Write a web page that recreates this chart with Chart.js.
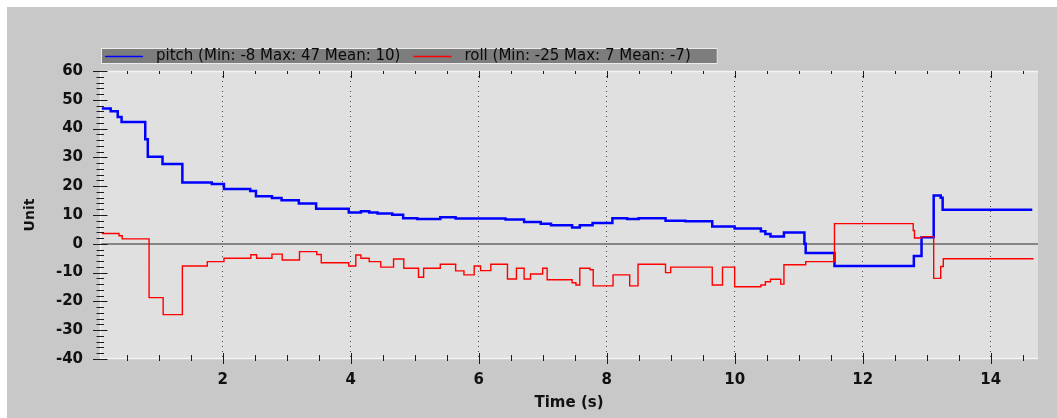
<!DOCTYPE html>
<html>
<head>
<meta charset="utf-8">
<script src="https://cdn.jsdelivr.net/npm/chart.js@4/dist/chart.umd.min.js"></script>
<style>
  html, body { margin: 0; padding: 0; background: #ffffff; overflow: hidden; }
  #wrap { width: 1057px; height: 418px; position: relative; }
</style>
</head>
<body>
<div id="wrap"><canvas id="c"></canvas></div>
<script>
// Sample times (s) and values; each value holds until the next sample time.
const pitchTime = [0.11, 0.25, 0.36, 0.42, 0.79, 0.83, 1.06, 1.37, 1.83, 2.02, 2.43, 2.52, 2.77, 2.92, 3.19, 3.46,
  3.97, 4.16, 4.29, 4.42, 4.65, 4.82, 5.04, 5.40, 5.64, 6.42, 6.71, 6.97, 7.13, 7.46, 7.58, 7.78,
  8.09, 8.32, 8.50, 8.92, 9.23, 9.65, 10.00, 10.41, 10.48, 10.56, 10.77, 11.09, 11.11, 11.56,
  12.80, 12.92, 13.11, 13.22, 13.25, 14.65];
const pitchValue = [47, 46, 44, 42.3, 36.3, 30.2, 27.7, 21.3, 20.8, 19, 18.3, 16.5, 15.9, 15.1, 14, 12.2,
  10.9, 11.3, 10.9, 10.5, 10.1, 8.9, 8.6, 9.2, 8.8, 8.4, 7.6, 7.0, 6.4, 5.7, 6.4, 7.2,
  8.9, 8.6, 8.9, 8.0, 7.8, 6.0, 5.3, 4.4, 3.4, 2.5, 3.9, 0, -3.2, -7.7,
  -4.2, 2.3, 16.8, 16.0, 11.8, 11.8];

const rollTime = [0.11, 0.38, 0.43, 0.85, 1.07, 1.37, 1.76, 2.02, 2.44, 2.53, 2.77, 2.93, 3.20, 3.47, 3.54,
  3.97, 4.08, 4.16, 4.29, 4.47, 4.67, 4.83, 5.06, 5.14, 5.40, 5.64, 5.77, 5.93, 6.03, 6.19,
  6.45, 6.59, 6.71, 6.81, 7.00, 7.07, 7.46, 7.52, 7.58, 7.74, 7.79, 8.10, 8.36, 8.49, 8.92,
  9.00, 9.65, 9.81, 10.00, 10.41, 10.48, 10.56, 10.72, 10.77, 11.11, 11.56, 12.79, 12.81,
  12.92, 13.11, 13.22, 13.26, 14.67];
const rollValue = [3.6, 2.8, 1.7, -18.7, -24.6, -7.7, -6.2, -5.0, -3.8, -5.0, -3.6, -5.6, -2.7, -3.7, -6.6,
  -7.7, -3.9, -5.0, -6.2, -8.1, -5.3, -8.5, -11.6, -8.5, -7.1, -9.4, -10.8, -7.7, -9.3, -7.1,
  -12.2, -8.5, -12.2, -10.5, -8.5, -12.5, -13.5, -14.3, -8.5, -9.0, -14.6, -10.8, -14.6, -7.1, -10.0,
  -8.1, -14.3, -8.1, -14.9, -14.3, -13.2, -12.3, -14.0, -7.3, -6.2, 7.0, 4.6, 2.0,
  2.5, -12.0, -7.9, -5.2, -5.2];

const seriesLabels = ['pitch (Min: -8 Max: 47 Mean: 10)', 'roll (Min: -25 Max: 7 Mean: -7)'];
const xTicks = [2, 4, 6, 8, 10, 12, 14];
const yTicks = [-40, -30, -20, -10, 0, 10, 20, 30, 40, 50, 60];

const toPoints = (ts, vs) => ts.map((t, i) => ({ x: t, y: vs[i] }));

const FONT = 'DejaVu Sans';

// Window frame, plot background, plot edges, tick marks and the legend strip.
const framePlugin = {
  id: 'frame',
  beforeDraw(chart) {
    const { ctx, width, height, chartArea: a } = chart;
    ctx.save();
    ctx.fillStyle = '#ffffff';
    ctx.fillRect(0, 0, width, height);
    ctx.fillStyle = '#c8c8c8';
    ctx.fillRect(7, 7, width - 7, height - 7);
    ctx.fillStyle = '#e0e0e0';
    ctx.fillRect(a.left, a.top, a.right - a.left, a.bottom - a.top);
    ctx.restore();
  },
  afterDraw(chart) {
    const { ctx, chartArea: a, scales } = chart;
    const xs = scales.x, ys = scales.y;
    ctx.save();
    // light edges of the plot
    ctx.strokeStyle = '#f4f4f4';
    ctx.lineWidth = 1.5;
    ctx.beginPath();
    ctx.moveTo(a.left + 0.5, a.top);
    ctx.lineTo(a.left + 0.5, a.bottom);
    ctx.moveTo(a.left, a.top + 0.5);
    ctx.lineTo(a.right, a.top + 0.5);
    ctx.moveTo(a.left, a.bottom - 0.5);
    ctx.lineTo(a.right, a.bottom - 0.5);
    ctx.stroke();

    // tick marks
    ctx.strokeStyle = '#1c1c1c';
    ctx.lineWidth = 1;
    ctx.beginPath();
    for (let v = ys.min; v <= ys.max + 1e-9; v += 2) {
      const py = Math.round(ys.getPixelForValue(v)) + 0.5;
      const major = Math.abs(v % 10) < 1e-9;
      ctx.moveTo(a.left - (major ? 7 : 3.5), py);
      ctx.lineTo(a.left + (major ? 7.5 : 4), py);
    }
    for (let k = 1; k * 0.5 < xs.max; k++) {
      const t = k * 0.5;
      if (t <= xs.min) continue;
      const px = Math.round(xs.getPixelForValue(t)) + 0.5;
      const major = k % 4 === 0;
      ctx.moveTo(px, a.bottom - (major ? 6 : 4));
      ctx.lineTo(px, a.bottom + (major ? 5 : 2));
      ctx.moveTo(px, a.top);
      ctx.lineTo(px, a.top + (major ? 7 : 3));
    }
    ctx.stroke();

    // legend strip
    const boxL = a.left + 1, boxT = 48, boxH = 16;
    ctx.font = '15px "' + FONT + '"';
    let cx = boxL + 4;
    const items = chart.data.datasets.map(ds => {
      const item = { x: cx, color: ds.borderColor, text: ds.label };
      cx += 38 + 13 + ctx.measureText(ds.label).width + 13;
      return item;
    });
    const boxR = cx + 14;
    ctx.fillStyle = '#7d7d7d';
    ctx.fillRect(boxL, boxT, boxR - boxL, boxH);
    ctx.strokeStyle = '#ececec';
    ctx.lineWidth = 1;
    ctx.strokeRect(boxL + 0.5, boxT + 0.5, boxR - boxL - 1, boxH - 1);
    const midY = boxT + boxH / 2 + 0.5;
    items.forEach(it => {
      ctx.strokeStyle = it.color;
      ctx.lineWidth = 1.5;
      ctx.beginPath();
      ctx.moveTo(it.x, midY);
      ctx.lineTo(it.x + 38, midY);
      ctx.stroke();
      ctx.fillStyle = '#0a0a0a';
      ctx.textBaseline = 'middle';
      ctx.textAlign = 'left';
      ctx.fillText(it.text, it.x + 38 + 13, midY);
    });
    ctx.restore();
  }
};

new Chart(document.getElementById('c'), {
  type: 'line',
  data: {
    datasets: [
      {
        label: seriesLabels[0],
        data: toPoints(pitchTime, pitchValue),
        borderColor: '#0000ff',
        backgroundColor: '#0000ff',
        borderWidth: 2.5,
        stepped: 'before',
        pointRadius: 0,
        order: 1
      },
      {
        label: seriesLabels[1],
        data: toPoints(rollTime, rollValue),
        borderColor: '#ff0000',
        backgroundColor: '#ff0000',
        borderWidth: 1.4,
        stepped: 'before',
        pointRadius: 0,
        order: 0
      }
    ]
  },
  options: {
    responsive: true,
    maintainAspectRatio: false,
    animation: false,
    events: [],
    layout: { padding: { top: 71, right: 19, bottom: 0, left: 0 } },
    plugins: {
      legend: { display: false },
      tooltip: { enabled: false }
    },
    scales: {
      x: {
        type: 'linear',
        min: 0.083,
        max: 14.74,
        afterFit(s) { s.height = 59; },
        afterBuildTicks(s) { s.ticks = xTicks.map(v => ({ value: v })); },
        ticks: {
          padding: 12,
          maxRotation: 0,
          autoSkip: false,
          color: '#111111',
          font: { family: FONT, size: 15, weight: 'bold' }
        },
        grid: { drawTicks: false, color: '#4a4a4a', lineWidth: 1 },
        border: { display: false, dash: [1, 4] },
        title: {
          display: true,
          text: 'Time (s)',
          color: '#111111',
          font: { family: FONT, size: 15, weight: 'bold' },
          padding: { top: 0, bottom: 6 }
        }
      },
      y: {
        type: 'linear',
        min: -40,
        max: 60,
        afterFit(s) { s.width = 100; },
        afterBuildTicks(s) { s.ticks = yTicks.map(v => ({ value: v })); },
        ticks: {
          padding: 17,
          color: '#111111',
          font: { family: FONT, size: 15, weight: 'bold' }
        },
        grid: {
          drawTicks: false,
          color: c => (c.tick && c.tick.value === 0 ? '#858585' : 'rgba(0,0,0,0)'),
          lineWidth: c => (c.tick && c.tick.value === 0 ? 2 : 1)
        },
        border: { display: false, dash: [] },
        title: {
          display: true,
          text: 'Unit',
          color: '#111111',
          font: { family: FONT, size: 14, weight: 'bold' },
          padding: { top: 22, bottom: 0 }
        }
      }
    }
  },
  plugins: [framePlugin]
});
</script>
</body>
</html>
